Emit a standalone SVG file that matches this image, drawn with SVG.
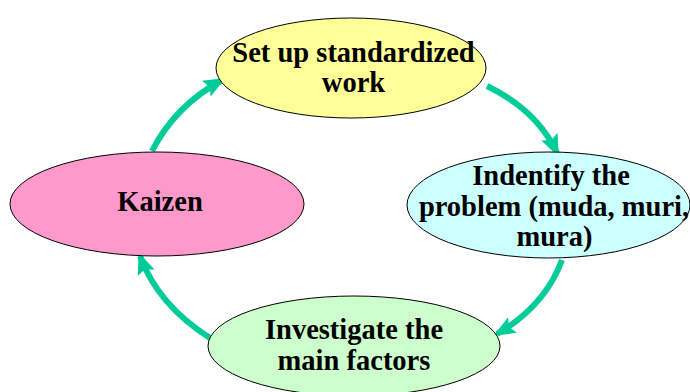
<svg xmlns="http://www.w3.org/2000/svg" width="690" height="392" viewBox="0 0 690 392">
<style>
.n{stroke:#000;stroke-width:1}
.c{fill:none;stroke:#00CC99;stroke-width:6}
</style>
<defs>
<marker id="ah" markerUnits="userSpaceOnUse" viewBox="0 0 22 18" refX="18" refY="9" markerWidth="22" markerHeight="18" orient="auto">
<path d="M0,0 L22,9 L0,18 L4,9 z" fill="#00CC99"/>
</marker>
</defs>
<rect width="690" height="392" fill="#fff"/>
<g id="connectors">
<path class="c" d="M152,151 Q175,106 222,80" marker-end="url(#ah)"/>
<path class="c" d="M487,86 Q537,110 557,153" marker-end="url(#ah)"/>
<path class="c" d="M562,260 Q545,306 497,334" marker-end="url(#ah)"/>
<path class="c" d="M210,338 Q158,305 140,256" marker-end="url(#ah)"/>
</g>
<g font-family="'Liberation Serif', 'Times New Roman', serif" font-weight="bold" font-size="28.5" text-anchor="middle" fill="#000">
<g id="setup">
<ellipse class="n" cx="351" cy="68" rx="135" ry="50" fill="#FFFF99"/>
<text x="353.5" y="62">Set up standardized</text>
<text x="353.5" y="92">work</text>
</g>
<g id="identify">
<ellipse class="n" cx="548.5" cy="205" rx="141.5" ry="53" fill="#CCFFFF"/>
<text x="551" y="185">Indentify the</text>
<text x="554" y="216">problem (muda, muri,</text>
<text x="554.5" y="246">mura)</text>
</g>
<g id="investigate">
<ellipse class="n" cx="354" cy="346" rx="146" ry="50" fill="#CCFFCC"/>
<text x="354" y="339">Investigate the</text>
<text x="354" y="370">main factors</text>
</g>
<g id="kaizen">
<ellipse class="n" cx="157" cy="204" rx="147" ry="52" fill="#FF99CC"/>
<text x="160" y="211">Kaizen</text>
</g>
</g>
</svg>
